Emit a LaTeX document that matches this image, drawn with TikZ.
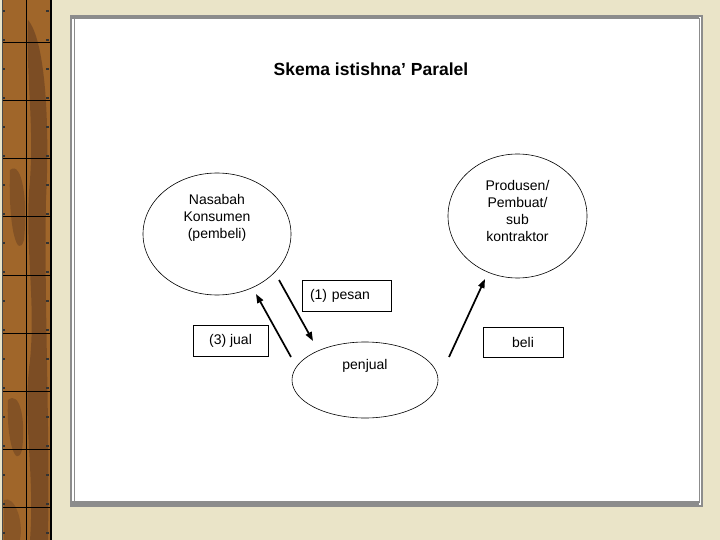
\documentclass[tikz,border=0pt]{standalone}
\usepackage{fontspec}
\setmainfont{Liberation Sans}
\usetikzlibrary{shapes.geometric,arrows.meta}
\definecolor{bg}{RGB}{234,228,200}
\definecolor{framegray}{RGB}{140,140,140}
\definecolor{brownA}{RGB}{160,102,42}
\definecolor{brownB}{RGB}{96,58,32}
\begin{document}
\begin{tikzpicture}[x=1pt,y=-1pt,
  lbl/.style={font=\fontsize{14}{17}\selectfont, align=center, inner sep=0pt},
  oval/.style={ellipse, draw=black, line width=0.6pt, fill=white, inner sep=0pt},
  labbox/.style={rectangle, draw=black, line width=0.8pt, fill=white, font=\fontsize{14}{17}\selectfont},
  conn/.style={line width=1.7pt, -{Triangle[length=9pt,width=6.5pt]}}]
\useasboundingbox (0,0) rectangle (720,540);
% background
\fill[bg] (0,0) rectangle (720,540);
% left decorative strip
\fill[brownA] (2,0) rectangle (51,540);
\fill[brownB, opacity=0.55] (28,20) .. controls (45,40) and (50,120) .. (46,200) .. controls (44,300) and (50,420) .. (48,540) -- (30,540) .. controls (35,470) and (22,420) .. (30,360) .. controls (36,300) and (24,240) .. (30,180) .. controls (34,120) and (26,80) .. cycle;
\fill[brownB, opacity=0.45] (10,170) .. controls (22,160) and (28,200) .. (24,240) .. controls (18,260) and (8,230) .. cycle;
\fill[brownB, opacity=0.45] (8,400) .. controls (20,390) and (26,420) .. (22,450) .. controls (16,470) and (6,440) .. cycle;
\fill[brownB, opacity=0.35] (4,500) .. controls (14,495) and (24,520) .. (20,540) -- (4,540) -- cycle;
\draw[black, line width=1pt] (26,0) -- (26,540);
\foreach \yy in {43,101,159,217,275,333,391,449,507} {
  \draw[black, line width=1pt] (2,\yy) -- (51,\yy);
}
\foreach \yy in {10,39,...,540} {
  \fill[black!80] (2,\yy) rectangle (5,\yy+2);
  \fill[black!80] (46,\yy) rectangle (49,\yy+2);
}
\draw[black!70, line width=1pt] (2,0) -- (2,540);
\draw[black, line width=2.5pt] (51,0) -- (51,540);
% slide frame
\fill[white] (71,16) rectangle (701,506);
\draw[framegray, line width=1.2pt] (71,16) rectangle (702,506);
\draw[framegray, line width=1pt] (74,19) rectangle (699,502);
\fill[framegray] (71,501) rectangle (699,507);
\fill[framegray] (71,16) rectangle (699,19.5);
% title
\node[font=\fontsize{17.5}{20}\selectfont\bfseries, inner sep=0pt] (title) at (371,69) {Skema istishna’ Paralel};
% ovals
\node[oval, minimum width=148pt, minimum height=122pt] (nasabah) at (217,234) {};
\node[lbl] (nasabahT) at (217,218) {Nasabah\\Konsumen\\(pembeli)};
\node[oval, minimum width=139pt, minimum height=124pt] (produsen) at (517.5,216) {};
\node[lbl] (produsenT) at (517.5,211) {Produsen/\\Pembuat/\\sub\\kontraktor};
\node[oval, minimum width=146pt, minimum height=76pt] (penjual) at (365,380) {};
\node[lbl] (penjualT) at (365,366) {penjual};
% boxes
\node[labbox, minimum height=31pt, text width=73pt, inner xsep=8pt, inner ysep=0pt, align=left] (pesan) at (346.5,295.5) {(1) pesan};
\node[labbox, minimum width=75pt, minimum height=31pt, inner sep=0pt] (jual) at (230.5,340.5) {(3) jual};
\node[labbox, minimum width=80pt, minimum height=30pt, inner sep=0pt] (beli) at (523,342) {beli};
% arrow end points
\coordinate (a1s) at (279,280);
\coordinate (a1e) at (313,341);
\coordinate (a2s) at (291,357);
\coordinate (a2e) at (256,294);
\coordinate (a3s) at (449,357);
\coordinate (a3e) at (485,279);
\draw[conn] (a1s) -- (a1e);
\draw[conn] (a2s) -- (a2e);
\draw[conn] (a3s) -- (a3e);
\end{tikzpicture}
\end{document}
